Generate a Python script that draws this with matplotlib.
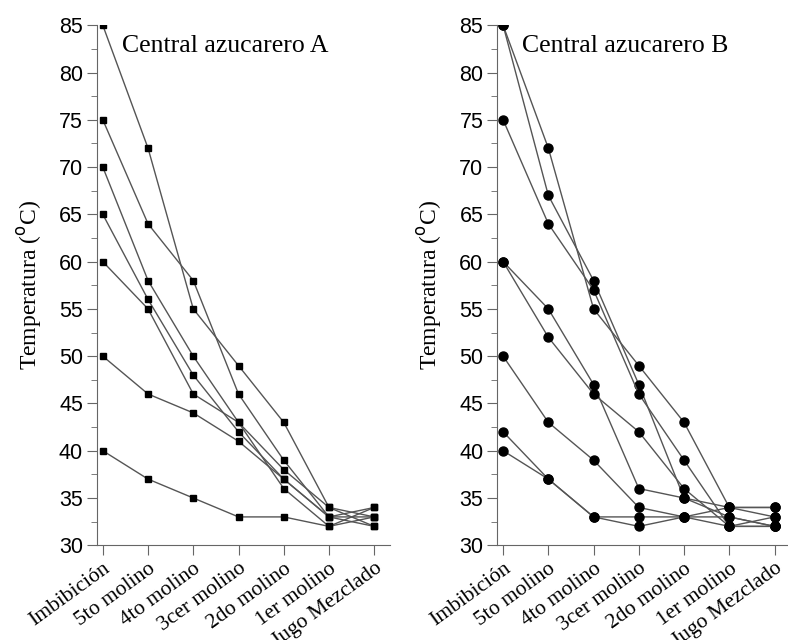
import matplotlib.pyplot as plt

etapas = ["Imbibición", "5to molino", "4to molino", "3cer molino",
          "2do molino", "1er molino", "Jugo Mezclado"]

# Central azucarero A (square markers)
a1 = [85, 72, 55, 49, 43, 34, 32]
a2 = [75, 64, 58, 46, 39, 33, 34]
a3 = [70, 58, 50, 43, 38, 34, 33]
a4 = [65, 56, 48, 42, 37, 33, 33]
a5 = [60, 55, 46, 43, 36, 32, 34]
a6 = [50, 46, 44, 41, 37, 33, 32]
a7 = [40, 37, 35, 33, 33, 32, 33]

# Central azucarero B (circle markers)
b1 = [85, 72, 55, 49, 43, 34, 33]
b2 = [85, 67, 58, 47, 35, 33, 32]
b3 = [75, 64, 57, 46, 39, 32, 32]
b4 = [60, 55, 47, 36, 35, 34, 34]
b5 = [60, 52, 46, 42, 36, 32, 33]
b6 = [50, 43, 39, 34, 33, 33, 32]
b7 = [42, 37, 33, 33, 33, 34, 34]
b8 = [40, 37, 33, 32, 33, 32, 32]

serie_a = [a1, a2, a3, a4, a5, a6, a7]
serie_b = [b1, b2, b3, b4, b5, b6, b7, b8]

fig = plt.figure(figsize=(7.88, 6.4), dpi=100)
ax_a = fig.add_axes([0.123, 0.148, 0.372, 0.8125])
ax_b = fig.add_axes([0.631, 0.148, 0.372, 0.8125])


def panel(ax, series, marker, ms, titulo):
    x = list(range(len(etapas)))
    for s in series:
        ax.plot(x, s, color="#555555", lw=1.0, marker=marker, ms=ms,
                mfc="black", mec="black")
    ax.set_xlim(-0.13, 6.35)
    ax.set_ylim(30, 85)
    ax.set_yticks(range(30, 86, 5))
    ax.set_yticks([30 + 2.5 * i for i in range(23)], minor=True)
    ax.set_xticks(x)
    ax.set_xticklabels(etapas, rotation=36, ha="right", rotation_mode="anchor",
                       family="Liberation Serif", fontsize=15.5)
    for lab in ax.get_yticklabels():
        lab.set_family("Liberation Sans")
        lab.set_fontsize(15.5)
    ax.spines["top"].set_visible(False)
    ax.spines["right"].set_visible(False)
    ax.spines["left"].set_color("#666666")
    ax.spines["bottom"].set_color("#666666")
    ax.tick_params(direction="out", length=7, color="#666666", pad=3)
    ax.tick_params(which="minor", direction="out", length=4, color="#666666")
    ax.tick_params(axis="x", which="minor", bottom=False)
    ax.set_ylabel("Temperatura ($^{\\rm o}$C)", family="Liberation Serif",
                  fontsize=17, labelpad=11)
    ax.text(0.42, 82.8, titulo, family="Liberation Serif", fontsize=18.5,
            va="center", ha="left")


panel(ax_a, serie_a, "s", 5, "Central azucarero A")
panel(ax_b, serie_b, "o", 6.5, "Central azucarero B")

fig.savefig("out.png", dpi=100)
